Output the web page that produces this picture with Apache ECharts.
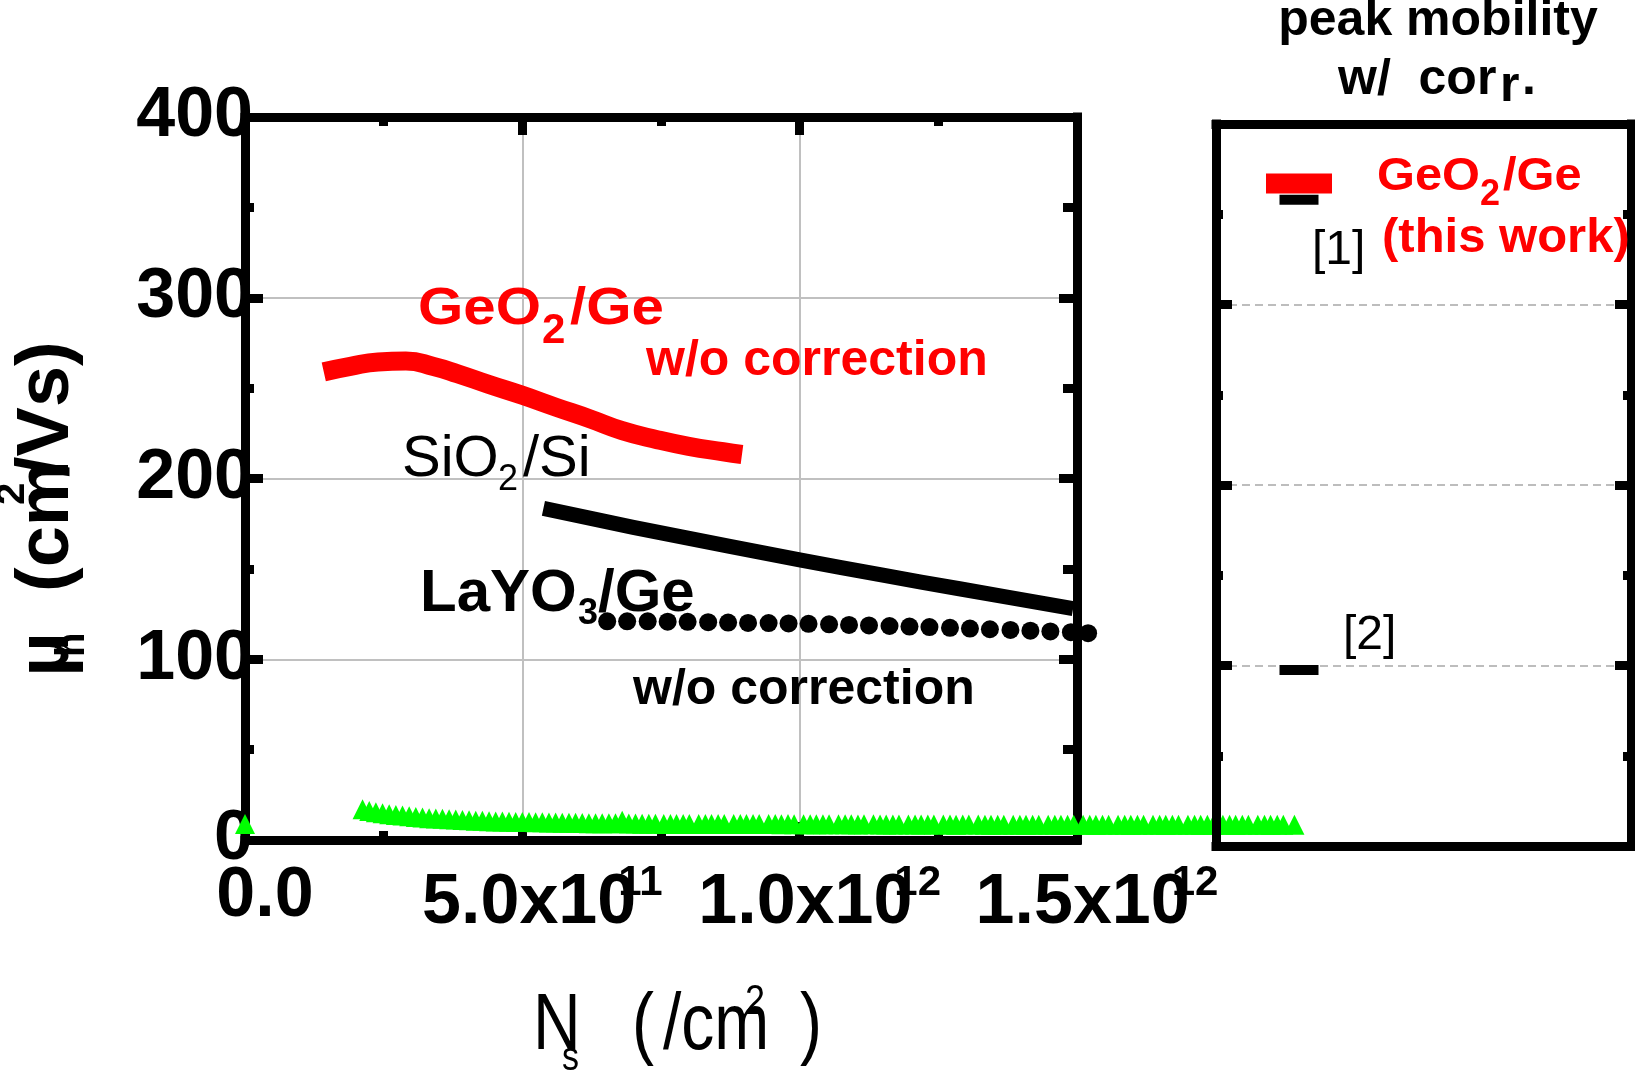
<!DOCTYPE html>
<html>
<head>
<meta charset="utf-8">
<script src="https://cdn.jsdelivr.net/npm/echarts@6/dist/echarts.min.js"></script>
<style>
html,body{margin:0;padding:0;background:#fff;}
#chart{width:1635px;height:1077px;}
</style>
</head>
<body>
<div id="chart"></div>
<script>
// ---------------- data (Ns in units of 1e11 /cm^2, mobility in cm^2/Vs) ----------------
const xTickText = ['0.0', '5.0x10', '1.0x10', '1.5x10'];
const xTickExp  = ['', '11', '12', '12'];
const yTicks = [0, 100, 200, 300, 400];

// GeO2/Ge w/o correction (thick red curve)
const geo2Ns = [1.42, 1.9, 2.4, 2.9, 3.4, 3.83, 4.4, 5.0, 5.6, 6.22, 6.8, 7.43, 8.0, 8.62, 8.96];
const geo2Mu = [259, 262, 264.5, 265, 262, 258, 252, 246, 239.5, 233, 226.5, 221.5, 217.8, 214.8, 213.3];

// SiO2/Si universal curve (thick black line)
const sio2Ns = [5.38, 7.0, 8.74, 10.0, 11.5, 12.88, 14.93];
const sio2Mu = [183.5, 173, 162.5, 155, 146.5, 139, 128];

// LaYO3/Ge w/o correction (black dots)
const layNs = [6.53, 6.89, 7.26, 7.62, 7.98, 8.35, 8.71, 9.07, 9.44, 9.80, 10.16, 10.53, 10.89,
               11.25, 11.62, 11.98, 12.34, 12.71, 13.07, 13.43, 13.80, 14.16, 14.52, 14.89, 15.2];
const layMu = [121, 121, 121, 120.8, 120.7, 120.5, 120.3, 120.1, 120, 119.8, 119.6, 119.3, 119,
               118.7, 118.4, 118.1, 117.8, 117.4, 117, 116.6, 116.2, 115.8, 115.4, 115, 114.4];

// green triangles
const greenNs = [0,
  2.12,2.24,2.36,2.48,2.60,2.72,2.84,2.96,3.08,3.20,3.32,3.44,3.56,3.68,3.80,3.92,4.04,4.16,4.28,4.40,
  4.52,4.64,4.76,4.88,5.00,5.12,5.24,5.36,5.48,5.60,5.72,5.84,5.96,6.08,6.20,6.32,6.44,6.56,6.68,6.80,
  6.92,7.04,7.16,7.28,7.40,
  7.55,7.67,7.78,7.90,8.01, 8.18,8.30,8.41,8.53,8.64, 8.81,8.93,9.04,9.16,9.27, 9.44,9.56,9.67,9.79,9.90,
  10.07,10.19,10.30,10.42,10.53, 10.70,10.82,10.93,11.05,11.16, 11.33,11.45,11.56,11.68,11.79,
  11.96,12.08,12.19,12.31,12.42, 12.59,12.71,12.82,12.94,13.05, 13.22,13.34,13.45,13.57,13.68,
  13.85,13.97,14.08,14.20,14.31, 14.48,14.60,14.71,14.83,14.94, 15.11,15.23,15.34,15.46,15.57,
  15.74,15.86,15.97,16.09,16.20, 16.37,16.49,16.60,16.72,16.83, 17.00,17.12,17.23,17.35,17.46,
  17.63,17.75,17.86,17.98,18.09, 18.26,18.38,18.49,18.61,18.72, 18.92];
const greenMu = [8.8,
  17.0,16.0,15.3,14.8,14.3,13.9,13.5,13.1,12.7,12.4,12.1,11.9,11.7,11.5,11.3,11.1,10.9,10.7,10.6,10.4,
  10.3,10.2,10.1,10.0,9.9,9.9,9.8,9.8,9.7,9.7,9.6,9.5,9.5,9.4,9.3,9.3,9.2,9.2,9.2,10.6,
  9.1,9.1,9.0,9.0,9.0,
  8.9,8.9,8.9,8.9,8.9, 8.9,8.8,8.8,8.9,8.8, 8.8,8.8,8.8,8.8,8.8, 8.8,8.8,8.7,8.8,8.7,
  8.7,8.7,8.7,8.7,8.7, 8.7,8.7,8.7,8.6,8.7, 8.7,8.6,8.6,8.6,8.6,
  8.6,8.6,8.6,8.6,8.6, 8.6,8.6,8.5,8.6,8.6, 8.6,8.5,8.5,8.5,8.5,
  8.5,8.5,8.5,8.5,8.5, 8.5,8.5,8.5,8.5,8.5, 8.5,8.5,8.4,8.5,8.5,
  8.5,8.4,8.4,8.4,8.4, 8.4,8.4,8.4,8.4,8.4, 8.4,8.4,8.4,8.4,8.4,
  8.4,8.4,8.4,8.4,8.4, 8.4,8.4,8.4,8.4,8.4, 8.4];

// right panel: peak mobility w/ correction
const peakNames = ['GeO2/Ge (this work)', '[1]', '[2]'];
const peakPos = [1, 1, 1];
const peakMu = [367, 358, 97.5];

// ---------------- chart ----------------
const FONT = '"Liberation Sans", Arial, Helvetica, sans-serif';
const zip = (a, b) => a.map((v, i) => [v, b[i]]);

function txt(str, x, base, size, o) {
  o = o || {};
  const sy = o.sy || 1;
  return {
    type: 'text', x: x, y: base - 0.3465 * size * sy, scaleX: o.sx || 1, scaleY: sy, z: 100,
    style: {
      text: str, fill: o.color || '#000',
      font: (o.bold ? 'bold ' : '') + size + 'px ' + FONT,
      align: o.align || 'left', verticalAlign: 'middle'
    }
  };
}

const axisLineStyle = { color: '#000', width: 9, cap: 'square' };
const tickStyle = { color: '#000', width: 9 };

const chart = echarts.init(document.getElementById('chart'), null, { renderer: 'canvas' });

const option = {
  animation: false,
  backgroundColor: '#fff',
  textStyle: { fontFamily: FONT },
  grid: [
    { left: 245, top: 117, width: 832, height: 723 },
    { left: 1216, top: 124, width: 415, height: 722 }
  ],
  xAxis: [
    {
      gridIndex: 0, type: 'value', min: 0, max: 15, interval: 5, position: 'bottom',
      axisLine: { show: true, onZero: false, lineStyle: axisLineStyle },
      axisTick: { show: true, inside: true, length: 18, lineStyle: tickStyle },
      minorTick: { show: true, splitNumber: 2, length: 9, lineStyle: tickStyle },
      splitLine: { show: true, lineStyle: { color: '#c0c0c0', width: 2 } },
      axisLabel: {
        show: true, margin: 22, padding: [0, 0, 0, 40],
        showMinLabel: true, showMaxLabel: true,
        formatter: function (v) {
          const i = Math.round(v / 5);
          if (!xTickExp[i]) return '{z|' + xTickText[i] + '}';
          return '{a|' + xTickText[i] + '}{s|' + xTickExp[i] + '}';
        },
        rich: {
          a: { fontSize: 70, fontWeight: 'bold', fontFamily: FONT, color: '#000', lineHeight: 70, padding: [14, 0, 0, 0] },
          s: { fontSize: 42, fontWeight: 'bold', fontFamily: FONT, color: '#000', lineHeight: 42, verticalAlign: 'top', padding: [0, 0, 0, -18] },
          z: { fontSize: 70, fontWeight: 'bold', fontFamily: FONT, color: '#000', lineHeight: 70 }
        }
      }
    },
    {
      gridIndex: 0, type: 'value', min: 0, max: 15, interval: 5, position: 'top',
      axisLine: { show: true, onZero: false, lineStyle: axisLineStyle },
      axisTick: { show: true, inside: true, length: 18, lineStyle: tickStyle },
      minorTick: { show: true, splitNumber: 2, length: 9, lineStyle: tickStyle },
      splitLine: { show: false }, axisLabel: { show: false }
    },
    {
      gridIndex: 1, type: 'value', min: 0, max: 5, position: 'bottom', z: 5,
      axisLine: { show: true, onZero: false, lineStyle: axisLineStyle },
      axisTick: { show: false }, splitLine: { show: false }, axisLabel: { show: false }
    },
    {
      gridIndex: 1, type: 'value', min: 0, max: 5, position: 'top', z: 5,
      axisLine: { show: true, onZero: false, lineStyle: axisLineStyle },
      axisTick: { show: false }, splitLine: { show: false }, axisLabel: { show: false }
    }
  ],
  yAxis: [
    {
      gridIndex: 0, type: 'value', min: yTicks[0], max: yTicks[yTicks.length - 1], interval: 100, position: 'left',
      axisLine: { show: true, onZero: false, lineStyle: axisLineStyle },
      axisTick: { show: true, inside: true, length: 18, lineStyle: tickStyle },
      minorTick: { show: true, splitNumber: 2, length: 9, lineStyle: tickStyle },
      splitLine: { show: true, lineStyle: { color: '#c0c0c0', width: 2 } },
      axisLabel: { show: true, margin: -8, fontSize: 70, fontWeight: 'bold', color: '#000', fontFamily: FONT,
                   showMinLabel: true, showMaxLabel: true }
    },
    {
      gridIndex: 0, type: 'value', min: 0, max: 400, interval: 100, position: 'right',
      axisLine: { show: true, onZero: false, lineStyle: axisLineStyle },
      axisTick: { show: true, inside: true, length: 18, lineStyle: tickStyle },
      minorTick: { show: true, splitNumber: 2, length: 14, lineStyle: tickStyle },
      splitLine: { show: false }, axisLabel: { show: false }
    },
    {
      gridIndex: 1, type: 'value', min: 0, max: 400, interval: 100, position: 'left', z: 5,
      axisLine: { show: true, onZero: false, lineStyle: axisLineStyle },
      axisTick: { show: true, inside: true, length: 16, lineStyle: tickStyle },
      minorTick: { show: true, splitNumber: 2, length: 7, lineStyle: tickStyle },
      splitLine: { show: true, lineStyle: { color: '#bdbdbd', width: 2, type: [8, 5] } },
      axisLabel: { show: false }
    },
    {
      gridIndex: 1, type: 'value', min: 0, max: 400, interval: 100, position: 'right', z: 5,
      axisLine: { show: true, onZero: false, lineStyle: axisLineStyle },
      axisTick: { show: true, inside: true, length: 16, lineStyle: tickStyle },
      minorTick: { show: true, splitNumber: 2, length: 8, lineStyle: tickStyle },
      splitLine: { show: false }, axisLabel: { show: false }
    }
  ],
  series: [
    {
      name: 'GeO2/Ge w/o correction', type: 'line', xAxisIndex: 0, yAxisIndex: 0,
      data: zip(geo2Ns, geo2Mu), symbol: 'none', smooth: 0.5, z: 3,
      lineStyle: { color: '#ff0000', width: 19, cap: 'butt', join: 'round' }
    },
    {
      name: 'SiO2/Si', type: 'line', xAxisIndex: 0, yAxisIndex: 0,
      data: zip(sio2Ns, sio2Mu), symbol: 'none', smooth: 0.3, z: 3,
      lineStyle: { color: '#000', width: 15, cap: 'butt', join: 'round' }
    },
    {
      name: 'LaYO3/Ge w/o correction', type: 'scatter', xAxisIndex: 0, yAxisIndex: 0,
      data: zip(layNs, layMu), symbol: 'circle', symbolSize: 18, clip: false, z: 3,
      itemStyle: { color: '#000', opacity: 1 }
    },
    {
      name: 'green', type: 'scatter', xAxisIndex: 0, yAxisIndex: 0,
      data: zip(greenNs, greenMu), symbol: 'triangle', symbolSize: [20, 20], clip: false, z: 2,
      itemStyle: { color: '#00ff00', opacity: 1 }
    },
    {
      name: peakNames[0], type: 'scatter', xAxisIndex: 2, yAxisIndex: 2,
      data: [[peakPos[0], peakMu[0]]], symbol: 'rect', symbolSize: [66, 20], z: 6,
      itemStyle: { color: '#ff0000', opacity: 1 }
    },
    {
      name: peakNames[1] + ' ' + peakNames[2], type: 'scatter', xAxisIndex: 2, yAxisIndex: 2,
      data: [[peakPos[1], peakMu[1]], [peakPos[2], peakMu[2]]], symbol: 'rect', symbolSize: [39, 10], z: 6,
      itemStyle: { color: '#000', opacity: 1 }
    }
  ],
  graphic: [
    // y-axis title (rotated)
    {
      type: 'group', x: 0, y: 0, rotation: Math.PI / 2, z: 100,
      children: [
        txt('\u03bc', -677, 73, 74, { bold: true }),
        txt('h', -657, 87, 40, { bold: true }),
        txt('(cm', -592, 73, 74, { bold: true }),
        txt('2', -505, 27, 40, { bold: true }),
        txt('/Vs)', -477, 73, 74, { bold: true })
      ]
    },
    // x-axis title
    txt('N', 533, 1055, 66, { sy: 1.2 }),
    txt('s', 562, 1073, 34, { sy: 1.2 }),
    txt('(', 632, 1055, 66, { sy: 1.2 }),
    txt('/cm', 663, 1055, 66, { sy: 1.2 }),
    txt('2', 745, 1017, 36, { sy: 1.2 }),
    txt(')', 800, 1055, 66, { sy: 1.2 }),
    // GeO2/Ge w/o correction
    txt('GeO', 418, 328, 52, { bold: true, sx: 1.12, color: '#ff0000' }),
    txt('2', 542, 346, 42, { bold: true, color: '#ff0000' }),
    txt('/Ge', 570, 328, 52, { bold: true, sx: 1.12, color: '#ff0000' }),
    txt('w/o correction', 646, 379, 50, { bold: true, color: '#ff0000' }),
    // SiO2/Si
    txt('SiO', 402, 480, 58),
    txt('2', 498, 493, 36),
    txt('/Si', 523, 480, 58),
    // LaYO3/Ge w/o correction
    txt('LaYO', 420, 615, 60, { bold: true }),
    txt('3', 578, 627, 36, { bold: true }),
    txt('/Ge', 598, 615, 60, { bold: true }),
    txt('w/o correction', 633, 708, 50, { bold: true }),
    // right panel title
    txt('peak mobility', 1438, 39, 50, { bold: true, align: 'center' }),
    txt('w/  cor', 1338, 98, 50, { bold: true }),
    txt('r', 1500, 105, 50, { bold: true }),
    txt('.', 1522, 98, 50, { bold: true }),
    // right panel labels
    txt('GeO', 1377, 193, 46, { bold: true, sx: 1.06, color: '#ff0000' }),
    txt('2', 1480, 208, 36, { bold: true, color: '#ff0000' }),
    txt('/Ge', 1503, 193, 46, { bold: true, sx: 1.06, color: '#ff0000' }),
    txt('(this work)', 1382, 255, 49, { bold: true, color: '#ff0000' }),
    txt('[1]', 1312, 267, 48),
    txt('[2]', 1343, 652, 48)
  ]
};

chart.setOption(option);
</script>
</body>
</html>
